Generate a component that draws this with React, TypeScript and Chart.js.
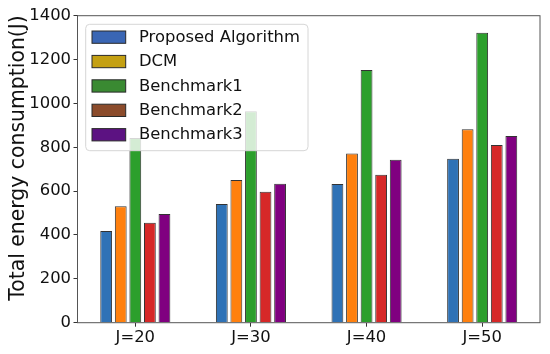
import React, { useEffect, useRef } from "react";
import { Chart, registerables } from "chart.js";

Chart.register(...registerables);

const categories = ["J=20", "J=30", "J=40", "J=50"];
const seriesNames = ["Proposed Algorithm", "DCM", "Benchmark1", "Benchmark2", "Benchmark3"];
const proposed = [418, 541, 632, 748];
const dcm = [531, 651, 772, 882];
const benchmark1 = [842, 964, 1152, 1322];
const benchmark2 = [456, 597, 675, 810];
const benchmark3 = [496, 634, 743, 851];
const barColors = ["#2f72b6", "#ff800e", "#2c9f2c", "#d62828", "#800080"];
const legendColors = ["#3a66b4", "#c4a012", "#3a8a32", "#8b4b2b", "#5c1282"];
const yTicks = [0, 200, 400, 600, 800, 1000, 1200, 1400];
const yTitle = "Total energy consumption(J)";

const FONT = "'DejaVu Sans', sans-serif";

export default function App() {
  const ref = useRef<HTMLCanvasElement | null>(null);

  useEffect(() => {
    if (!ref.current) return;
    const series = [proposed, dcm, benchmark1, benchmark2, benchmark3];

    const overlay = {
      id: "overlay",
      afterDatasetsDraw(chart: any) {
        const ctx = chart.ctx as CanvasRenderingContext2D;
        const ca = chart.chartArea;
        ctx.save();
        // frame
        ctx.strokeStyle = "#555555";
        ctx.lineWidth = 1;
        ctx.strokeRect(ca.left, ca.top, ca.right - ca.left, ca.bottom - ca.top);
        // legend
        const bx = ca.left + 8.2;
        const by = ca.top + 8.6;
        const bw = 222.3;
        const bh = 126.4;
        const r = 4;
        ctx.beginPath();
        ctx.moveTo(bx + r, by);
        ctx.lineTo(bx + bw - r, by);
        ctx.quadraticCurveTo(bx + bw, by, bx + bw, by + r);
        ctx.lineTo(bx + bw, by + bh - r);
        ctx.quadraticCurveTo(bx + bw, by + bh, bx + bw - r, by + bh);
        ctx.lineTo(bx + r, by + bh);
        ctx.quadraticCurveTo(bx, by + bh, bx, by + bh - r);
        ctx.lineTo(bx, by + r);
        ctx.quadraticCurveTo(bx, by, bx + r, by);
        ctx.closePath();
        ctx.fillStyle = "rgba(255,255,255,0.8)";
        ctx.fill();
        ctx.strokeStyle = "#d6d6d6";
        ctx.stroke();
        ctx.font = `16.4px ${FONT}`;
        ctx.textBaseline = "middle";
        ctx.textAlign = "left";
        chart.data.datasets.forEach((ds: any, i: number) => {
          const sy = by + 6.7 + i * 24.4;
          ctx.fillStyle = legendColors[i];
          ctx.fillRect(bx + 6.3, sy, 33.7, 12.3);
          ctx.strokeStyle = "#2a2a2a";
          ctx.strokeRect(bx + 6.3, sy, 33.7, 12.3);
          ctx.fillStyle = "#111111";
          ctx.fillText(ds.label, bx + 53.3, sy + 6.6);
        });
        // y title
        ctx.translate(19, 158);
        ctx.rotate(-Math.PI / 2);
        ctx.textAlign = "center";
        ctx.font = `20.4px ${FONT}`;
        ctx.fillStyle = "#111111";
        ctx.fillText(yTitle, 0, 0);
        ctx.restore();
      },
    };

    const chart = new Chart(ref.current, {
      type: "bar",
      data: {
        labels: categories,
        datasets: series.map((vals, i) => ({
          label: seriesNames[i],
          data: vals,
          backgroundColor: barColors[i],
          borderColor: "#333333",
          borderWidth: 1,
          categoryPercentage: 0.63,
          barPercentage: 0.81,
        })),
      },
      options: {
        responsive: false,
        animation: false,
        devicePixelRatio: 1,
        layout: { padding: { left: 0, top: 15.7, right: 10, bottom: 0 } },
        plugins: {
          legend: { display: false },
          tooltip: { enabled: false },
        },
        scales: {
          x: {
            afterFit: (s: any) => {
              s.height = 31.3;
            },
            border: { display: false },
            grid: {
              offset: false,
              drawOnChartArea: false,
              drawTicks: true,
              tickLength: 4,
              color: "#333333",
            },
            ticks: {
              color: "#111111",
              padding: 1,
              font: { family: FONT, size: 16.4 },
            },
          },
          y: {
            min: 0,
            max: 1400,
            afterFit: (s: any) => {
              s.width = 77.5;
            },
            afterBuildTicks: (s: any) => {
              s.ticks = yTicks.map((v) => ({ value: v }));
            },
            border: { display: false },
            grid: {
              drawOnChartArea: false,
              drawTicks: true,
              tickLength: 4,
              color: "#333333",
            },
            ticks: {
              color: "#111111",
              padding: 2.5,
              font: { family: FONT, size: 16.4 },
              callback: (v: any) => String(v),
            },
          },
        },
      },
      plugins: [overlay],
    });
    return () => chart.destroy();
  }, []);

  return (
    <div style={{ position: "absolute", left: 0, top: 0, width: 550, height: 354, background: "#fff" }}>
      <canvas ref={ref} width={550} height={354} />
    </div>
  );
}
